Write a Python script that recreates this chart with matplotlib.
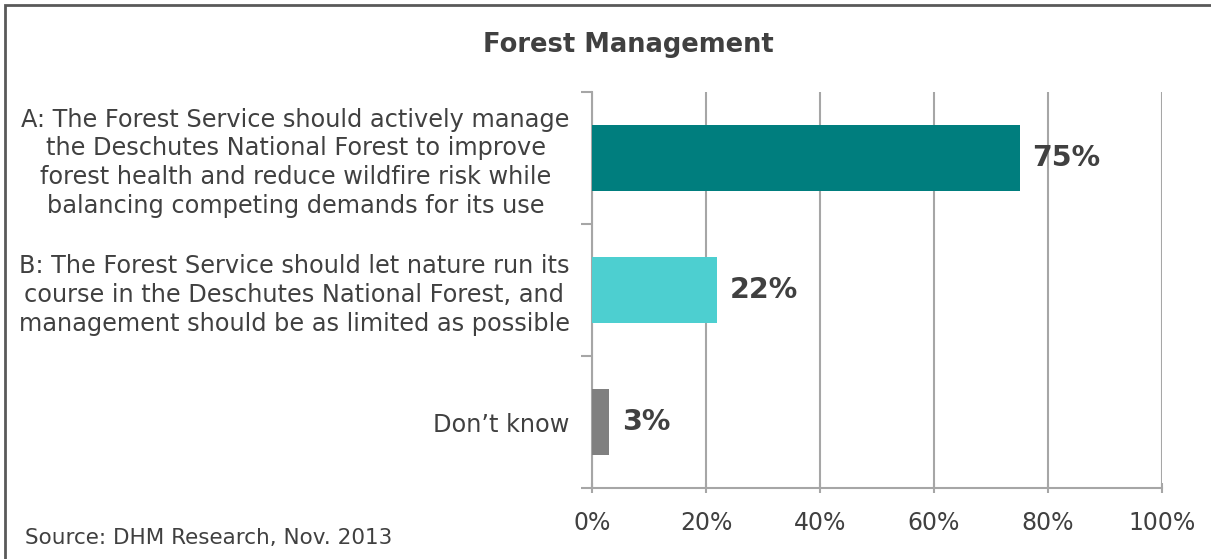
import matplotlib
matplotlib.use("Agg")
import matplotlib.pyplot as plt
from matplotlib.patches import Rectangle

categories = [
    "A: The Forest Service should actively manage\nthe Deschutes National Forest to improve\nforest health and reduce wildfire risk while\nbalancing competing demands for its use",
    "B: The Forest Service should let nature run its\ncourse in the Deschutes National Forest, and\nmanagement should be as limited as possible",
    "Don\u2019t know",
]
values = [75, 22, 3]
value_labels = ["75%", "22%", "3%"]
colors = ["#007E7E", "#4DCFD0", "#808080"]
xticks = [0, 20, 40, 60, 80, 100]
xtick_labels = ["0%", "20%", "40%", "60%", "80%", "100%"]

plt.rcParams['font.family'] = ['DejaVu Sans']
txt = "#404040"
grid = "#A6A6A6"

fig = plt.figure(figsize=(12.11, 5.59), dpi=100)
W, H = 1211, 559
ax = fig.add_axes([592 / W, 1 - 488 / H, (1162 - 592) / W, (488 - 92) / H])

ypos = list(range(len(categories)))
ax.barh(ypos, values, height=0.5, color=colors, zorder=3)
ax.set_ylim(len(categories) - 0.5, -0.5)
ax.set_xlim(0, 100)

for y, v, lab in zip(ypos, values, value_labels):
    ax.text(v + 2.2, y, lab, va='center', ha='left', fontsize=20.5, fontweight='bold', color=txt, zorder=4)

ax.set_xticks(xticks)
ax.set_xticklabels(xtick_labels, fontsize=17, color=txt)
ax.grid(axis='x', color=grid, linewidth=1.5, zorder=0)
ax.tick_params(axis='x', length=7, width=1.5, color=grid, direction='inout', pad=13)

ax.set_yticks([-0.5, 0.5, 1.5, 2.5])
ax.set_yticklabels([])
ax.tick_params(axis='y', length=8, width=1.5, color=grid, direction='out')
ax.set_yticks(ypos, minor=True)
ax.set_yticklabels(categories, minor=True, fontsize=17.3, color=txt, linespacing=1.25,
                   multialignment='center')
ax.tick_params(axis='y', which='minor', length=0, pad=16)

for s in ['top', 'right']:
    ax.spines[s].set_visible(False)
ax.spines['left'].set_color(grid)
ax.spines['left'].set_linewidth(1.5)
ax.spines['bottom'].set_color(grid)
ax.spines['bottom'].set_linewidth(1.5)

fig.text(628 / W, 1 - 45 / H, "Forest Management", ha='center', va='center', fontsize=18.5, fontweight='bold', color=txt)
fig.text(25 / W, 1 - 538 / H, "Source: DHM Research, Nov. 2013", ha='left', va='center', fontsize=15.5, color=txt)

# outer border
fig.add_artist(Rectangle((5 / W, -0.1), 1.2, 1 - 5 / H + 0.1, transform=fig.transFigure, fill=False,
                         edgecolor="#595959", linewidth=2))

fig.savefig("out.png", dpi=100)
